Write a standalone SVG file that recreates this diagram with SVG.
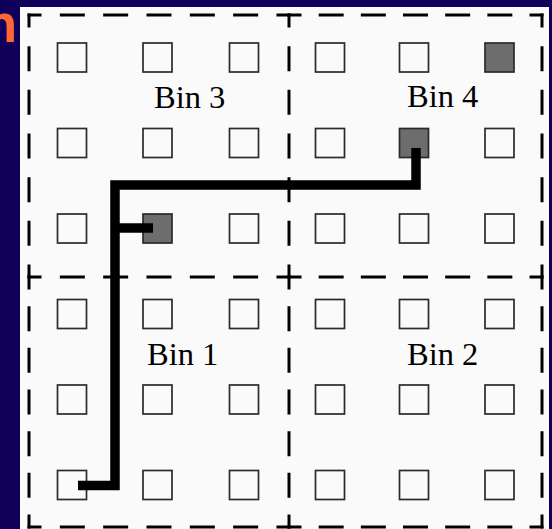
<svg xmlns="http://www.w3.org/2000/svg" width="552" height="529" viewBox="0 0 552 529">
  <style>
    .dash { stroke: #000; stroke-width: 3; stroke-linecap: square; fill: none; }
    .cell { fill: #fafafa; stroke: #2a2a2a; stroke-width: 1.7; }
    .cell.on { fill: #6d6d6d; }
    .lbl { font-family: "Liberation Serif", "Times New Roman", serif; font-size: 32.5px; fill: #000; }
    .wire { stroke: #000; stroke-width: 9.5; fill: none; stroke-linecap: butt; stroke-linejoin: miter; }
  </style>
  <rect x="0" y="0" width="552" height="529" fill="#10005a"/>
  <text x="17" y="42" text-anchor="end" font-family="Liberation Sans, Arial, sans-serif" font-weight="bold" font-size="53" fill="#ff6633">n</text>
  <rect x="20" y="7" width="529" height="522" fill="#fafafa"/>

  <g id="bins-border">
    <line class="dash" x1="29" y1="15" x2="289" y2="15" stroke-dasharray="22 21.33" stroke-dashoffset="11"/>
    <line class="dash" x1="289" y1="15" x2="542" y2="15" stroke-dasharray="22 20.17" stroke-dashoffset="11"/>
    <line class="dash" x1="29" y1="277" x2="289" y2="277" stroke-dasharray="22 21.33" stroke-dashoffset="11"/>
    <line class="dash" x1="289" y1="277" x2="542" y2="277" stroke-dasharray="22 20.17" stroke-dashoffset="11"/>
    <line class="dash" x1="29" y1="527" x2="289" y2="527" stroke-dasharray="22 21.33" stroke-dashoffset="11"/>
    <line class="dash" x1="289" y1="527" x2="542" y2="527" stroke-dasharray="22 20.17" stroke-dashoffset="11"/>
    <line class="dash" x1="29" y1="15" x2="29" y2="277" stroke-dasharray="22 21.67" stroke-dashoffset="11"/>
    <line class="dash" x1="29" y1="277" x2="29" y2="527" stroke-dasharray="22 19.67" stroke-dashoffset="11"/>
    <line class="dash" x1="289" y1="15" x2="289" y2="277" stroke-dasharray="22 21.67" stroke-dashoffset="11"/>
    <line class="dash" x1="289" y1="277" x2="289" y2="527" stroke-dasharray="22 19.67" stroke-dashoffset="11"/>
    <line class="dash" x1="542" y1="15" x2="542" y2="277" stroke-dasharray="22 21.67" stroke-dashoffset="11"/>
    <line class="dash" x1="542" y1="277" x2="542" y2="527" stroke-dasharray="22 19.67" stroke-dashoffset="11"/>
  </g>

  <g id="cells">
    <rect class="cell" x="57.5" y="43" width="29" height="29"/>
    <rect class="cell" x="143" y="43" width="29" height="29"/>
    <rect class="cell" x="229.5" y="43" width="29" height="29"/>
    <rect class="cell" x="315.5" y="43" width="29" height="29"/>
    <rect class="cell" x="399.5" y="43" width="29" height="29"/>
    <rect class="cell on" x="485" y="43" width="29" height="29"/>
    <rect class="cell" x="57.5" y="128.5" width="29" height="29"/>
    <rect class="cell" x="143" y="128.5" width="29" height="29"/>
    <rect class="cell" x="229.5" y="128.5" width="29" height="29"/>
    <rect class="cell" x="315.5" y="128.5" width="29" height="29"/>
    <rect class="cell on" x="399.5" y="128.5" width="29" height="29"/>
    <rect class="cell" x="485" y="128.5" width="29" height="29"/>
    <rect class="cell" x="57.5" y="214" width="29" height="29"/>
    <rect class="cell on" x="143" y="214" width="29" height="29"/>
    <rect class="cell" x="229.5" y="214" width="29" height="29"/>
    <rect class="cell" x="315.5" y="214" width="29" height="29"/>
    <rect class="cell" x="399.5" y="214" width="29" height="29"/>
    <rect class="cell" x="485" y="214" width="29" height="29"/>
    <rect class="cell" x="57.5" y="299.5" width="29" height="29"/>
    <rect class="cell" x="143" y="299.5" width="29" height="29"/>
    <rect class="cell" x="229.5" y="299.5" width="29" height="29"/>
    <rect class="cell" x="315.5" y="299.5" width="29" height="29"/>
    <rect class="cell" x="399.5" y="299.5" width="29" height="29"/>
    <rect class="cell" x="485" y="299.5" width="29" height="29"/>
    <rect class="cell" x="57.5" y="385" width="29" height="29"/>
    <rect class="cell" x="143" y="385" width="29" height="29"/>
    <rect class="cell" x="229.5" y="385" width="29" height="29"/>
    <rect class="cell" x="315.5" y="385" width="29" height="29"/>
    <rect class="cell" x="399.5" y="385" width="29" height="29"/>
    <rect class="cell" x="485" y="385" width="29" height="29"/>
    <rect class="cell" x="57.5" y="470.5" width="29" height="29"/>
    <rect class="cell" x="143" y="470.5" width="29" height="29"/>
    <rect class="cell" x="229.5" y="470.5" width="29" height="29"/>
    <rect class="cell" x="315.5" y="470.5" width="29" height="29"/>
    <rect class="cell" x="399.5" y="470.5" width="29" height="29"/>
    <rect class="cell" x="485" y="470.5" width="29" height="29"/>
  </g>

  <g id="bin3"><text class="lbl" x="154" y="108">Bin 3</text></g>
  <g id="bin4"><text class="lbl" x="407" y="107">Bin 4</text></g>
  <g id="bin1"><text class="lbl" x="147" y="365">Bin 1</text></g>
  <g id="bin2"><text class="lbl" x="407" y="365">Bin 2</text></g>

  <g id="connectors">
    <polyline class="wire" points="78,485.5 115,485.5 115,185 416,185 416,148"/>
    <line class="wire" x1="115" y1="228" x2="153" y2="228"/>
  </g>
</svg>
